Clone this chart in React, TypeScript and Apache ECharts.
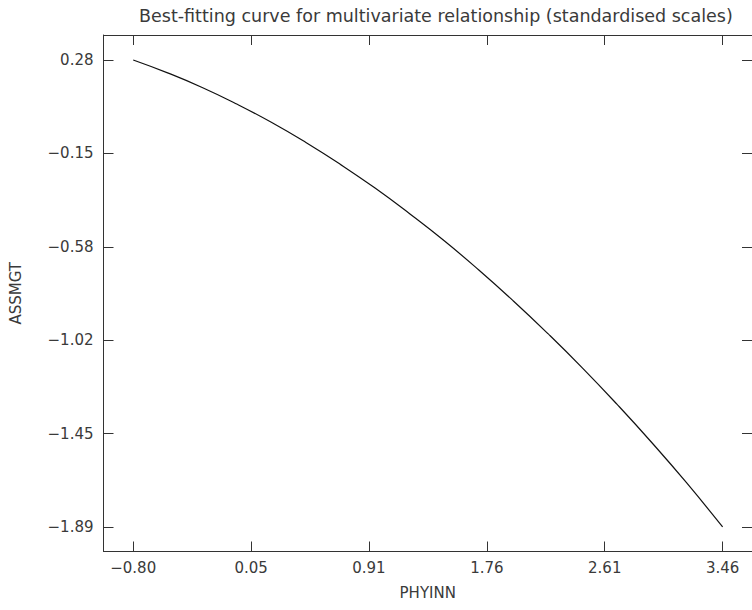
import React, { useEffect, useRef } from "react";
import * as echarts from "echarts";

const titleText = "Best-fitting curve for multivariate relationship (standardised scales)";
const xName = "PHYINN";
const yName = "ASSMGT";

const xTicks = [-0.7985, 0.0537, 0.9059, 1.7581, 2.6103, 3.4625];
const yTicks = [0.285, -0.1494, -0.5838, -1.0182, -1.4526, -1.887];

const curveX = [-0.7985, -0.55, -0.3, -0.05, 0.2, 0.45, 0.7, 0.95, 1.2, 1.45, 1.7, 1.95, 2.2, 2.45, 2.7, 2.95, 3.2, 3.4625];
const curveY = [0.285, 0.225, 0.157, 0.08, -0.005, -0.099, -0.201, -0.311, -0.43, -0.556, -0.692, -0.836, -0.988, -1.148, -1.317, -1.494, -1.68, -1.887];

const fmt = (v: number) => {
  const s = Number(v).toFixed(2);
  return s.startsWith("-") ? "\u2212" + s.slice(1) : s;
};

export default function App() {
  const ref = useRef<HTMLDivElement>(null);
  useEffect(() => {
    if (!ref.current) return;
    const chart = echarts.init(ref.current, null, { renderer: "svg" });
    const font = "DejaVu Sans";
    const textColor = "#3a3a3a";
    const lineColor = "#333";
    const xMin = -1.0133, xMax = 3.675, yMin = -2.001, yMax = 0.401;
    const axisCommon = {
      type: "value" as const,
      splitLine: { show: false },
      axisLine: { show: true, onZero: false, lineStyle: { color: lineColor, width: 1 } },
    };
    chart.setOption({
      animation: false,
      backgroundColor: "#fff",
      title: {
        text: titleText,
        left: 134,
        top: 2,
        textStyle: { fontFamily: font, fontSize: 17.5, fontWeight: "normal", color: textColor },
      },
      grid: { left: 103.5, top: 35, right: -6.7, bottom: 58.5 },
      xAxis: [
        {
          ...axisCommon,
          position: "bottom",
          min: xMin,
          max: xMax,
          name: xName,
          nameLocation: "middle",
          nameGap: 34,
          nameTextStyle: { fontFamily: font, fontSize: 15, color: textColor },
          axisTick: { show: true, inside: true, length: 10, customValues: xTicks, lineStyle: { color: lineColor } },
          axisLabel: { show: true, customValues: xTicks, formatter: fmt, margin: 9, fontFamily: font, fontSize: 15, color: textColor },
        },
        {
          ...axisCommon,
          position: "top",
          min: xMin,
          max: xMax,
          axisTick: { show: true, inside: true, length: 10, customValues: xTicks, lineStyle: { color: lineColor } },
          axisLabel: { show: false },
        },
      ],
      yAxis: [
        {
          ...axisCommon,
          position: "left",
          min: yMin,
          max: yMax,
          name: yName,
          nameLocation: "middle",
          nameGap: 80,
          nameTextStyle: { fontFamily: font, fontSize: 15, color: textColor },
          axisTick: { show: true, inside: true, length: 10, customValues: yTicks, lineStyle: { color: lineColor } },
          axisLabel: { show: true, customValues: yTicks, formatter: fmt, margin: 10, fontFamily: font, fontSize: 15, color: textColor },
        },
        {
          ...axisCommon,
          position: "right",
          min: yMin,
          max: yMax,
          axisTick: { show: true, inside: true, length: 10, customValues: yTicks, lineStyle: { color: lineColor } },
          axisLabel: { show: false },
        },
      ],
      series: [
        {
          type: "line",
          xAxisIndex: 0,
          yAxisIndex: 0,
          data: curveX.map((x, i) => [x, curveY[i]]),
          smooth: true,
          showSymbol: false,
          symbol: "none",
          lineStyle: { color: "#111", width: 1.2 },
        },
      ],
    });
    return () => chart.dispose();
  }, []);
  return (
    <div
      ref={ref}
      style={{ position: "absolute", left: 0, top: 0, width: 752, height: 610, overflow: "hidden" }}
    />
  );
}
